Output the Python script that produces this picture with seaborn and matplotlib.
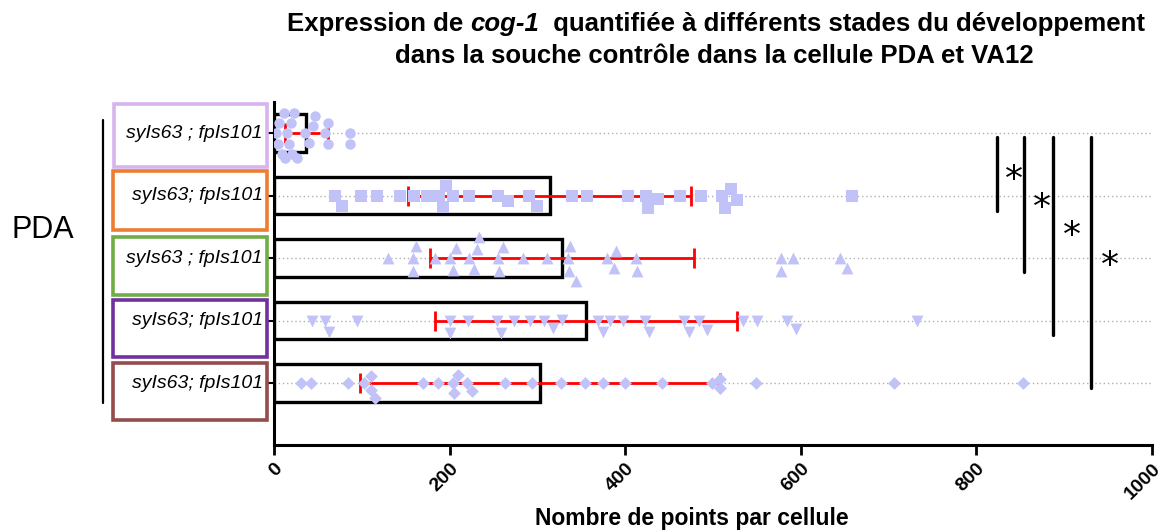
"""
Expression de cog-1 par cellule PDA : barres horizontales (moyenne +/- SD)
avec les points individuels superposés.
"""

import matplotlib.pyplot as plt
import matplotlib.transforms as mtransforms
import numpy as np
import pandas as pd
import seaborn as sns
from matplotlib.patches import Rectangle


# Données (nombre de points par cellule).
groupes = ["lignée 1", "lignée 2", "lignée 3", "lignée 4", "lignée 5"]
etiquettes = [
    "syIs63 ; fpIs101",
    "syIs63; fpIs101",
    "syIs63 ; fpIs101",
    "syIs63; fpIs101",
    "syIs63; fpIs101",
]
moyennes = [37, 314, 328, 355, 303]
ecarts_types = [24, 161, 150, 172, 205]

points_1 = [2, 4, 6, 9, 11, 13, 15, 17, 19, 21, 23, 26, 35, 40, 44, 47, 58, 61, 62, 87, 87]
points_2 = [69, 77, 99, 117, 143, 160, 174, 188, 193, 196, 204, 222, 255, 267, 291,
            299, 339, 357, 403, 424, 426, 437, 462, 486, 510, 514, 521, 527, 658]
points_3 = [130, 158, 158, 162, 183, 200, 204, 207, 222, 228, 231, 233, 255, 256, 261,
            284, 311, 335, 336, 337, 344, 379, 387, 390, 412, 413, 577, 577, 591, 645, 653]
points_4 = [43, 58, 63, 94, 200, 201, 221, 254, 258, 273, 292, 307, 318, 328, 369,
            375, 383, 397, 422, 427, 467, 473, 484, 493, 534, 550, 584, 594, 732]
points_5 = [31, 42, 84, 103, 110, 110, 115, 170, 187, 204, 205, 210, 220, 226, 263,
            294, 327, 354, 375, 400, 442, 499, 508, 508, 549, 706, 853]

# Comparaisons significatives (groupe de référence, groupe comparé).
comparaisons = [(0, 1), (0, 2), (0, 3), (0, 4)]

# Style / mise en page
MARQUEURS = ["o", "s", "^", "v", "D"]
TAILLES = [7.5, 8.5, 8.5, 8.5, 6.5]
COULEUR_POINTS = "#c0c2f8"
COULEURS_CADRES = ["#d7b4ef", "#ed7d31", "#70ad47", "#7030a0", "#944c4c"]
X_BARRES_SIGNIF = [824, 854, 887, 930]
Y_FIN_BARRES = [1.25, 2.22, 3.23, 4.07]
X_ETOILES = [843, 875, 909, 952]
Y_ETOILES = [0.6, 1.04, 1.49, 1.98]
W, H = 1163, 530


def fig_y(py):
    return 1 - py / H


def main() -> None:
    sns.set_theme(style="ticks")
    plt.rcParams["font.family"] = ["Liberation Sans", "DejaVu Sans"]
    for k in ["text.color", "axes.labelcolor", "xtick.color", "ytick.color", "axes.edgecolor"]:
        plt.rcParams[k] = "black"

    series = [points_1, points_2, points_3, points_4, points_5]
    df = pd.DataFrame(
        [(g, v) for g, vals in zip(groupes, series) for v in vals],
        columns=["groupe", "valeur"],
    )

    fig = plt.figure(figsize=(W / 100, H / 100), dpi=100)
    ax = fig.add_axes([274 / W, fig_y(445), (1152 - 274) / W, (445 - 102) / H])

    # Barres (moyennes) sans remplissage
    sns.barplot(
        x=moyennes, y=groupes, order=groupes, orient="h", ax=ax,
        color="black", fill=False, linewidth=2.4, width=0.6, errorbar=None,
    )

    # Barres d'erreur (SD)
    pos = np.arange(len(groupes))
    ax.errorbar(
        moyennes, pos, xerr=ecarts_types, fmt="none", ecolor="red",
        elinewidth=2, capsize=7, capthick=2, zorder=3,
    )

    # Points individuels, un marqueur par lignée
    for g, m, s in zip(groupes, MARQUEURS, TAILLES):
        sns.swarmplot(
            data=df[df["groupe"] == g], x="valeur", y="groupe", order=groupes,
            orient="h", ax=ax, marker=m, size=s, color=COULEUR_POINTS,
            linewidth=0, zorder=4,
        )

    ax.set_xlim(0, 1000)
    ax.set_ylim(4.99, -0.5)
    ax.set_xticks(range(0, 1001, 200))
    ax.set_xticklabels([str(t) for t in range(0, 1001, 200)], rotation=45,
                       ha="right", va="top", rotation_mode="anchor",
                       fontsize=14, fontweight="bold")
    ax.set_yticks(pos)
    ax.set_yticklabels([])
    ax.set_ylabel("")
    ax.set_xlabel("")
    ax.yaxis.grid(True, linestyle=(0, (1, 2)), color="#b0b0b0", linewidth=1)
    ax.tick_params(axis="x", length=7, width=2, pad=4)
    ax.tick_params(axis="y", length=5, width=1.5)
    for side in ["top", "right"]:
        ax.spines[side].set_visible(False)
    for side in ["left", "bottom"]:
        ax.spines[side].set_linewidth(2.2)

    fig.text(692 / W, fig_y(518), "Nombre de points par cellule", fontsize=16.5,
             fontweight="bold", ha="center", va="center")

    # Barres de significativité
    for (a, b), xs, y1, xe, ye in zip(comparaisons, X_BARRES_SIGNIF, Y_FIN_BARRES,
                                      X_ETOILES, Y_ETOILES):
        ax.plot([xs, xs], [a + 0.06, y1], color="black", lw=2.4,
                clip_on=False, zorder=5)
        ax.text(xe, ye + 0.15, "*", fontsize=26, ha="center", va="center",
                color="black", family="DejaVu Sans")

    # Étiquettes encadrées
    cadres = [(114, 104, 167), (113, 171, 230), (113, 237, 295),
              (113, 300, 357), (113, 363, 420)]
    for (x0, yt, yb), c in zip(cadres, COULEURS_CADRES):
        fig.patches.append(Rectangle(
            (x0 / W, fig_y(yb)), (267 - x0) / W, (yb - yt) / H,
            transform=fig.transFigure, fill=False, edgecolor=c, linewidth=2.6,
        ))
    trans = mtransforms.blended_transform_factory(fig.transFigure, ax.transData)
    for i, lab in enumerate(etiquettes):
        ax.text(263 / W, i, lab, transform=trans, ha="right", va="center",
                fontsize=14, style="italic", clip_on=False)

    # Accolade PDA
    fig.add_artist(plt.Line2D([103 / W, 103 / W], [fig_y(120), fig_y(403)],
                              transform=fig.transFigure, color="black", lw=1.6))
    fig.text(43 / W, fig_y(230), "PDA", fontsize=22, ha="center", va="center")

    # Titre (cog-1 en italique)
    kw = dict(fontsize=18.5, fontweight="bold", va="baseline")
    t1 = fig.text(287 / W, fig_y(31), "Expression de ", ha="left", **kw)
    t2 = fig.add_artist(plt.matplotlib.text.Annotation(
        "cog-1", xy=(1, 0), xycoords=t1, ha="left", va="bottom",
        style="italic", fontsize=18.5, fontweight="bold"))
    fig.add_artist(plt.matplotlib.text.Annotation(
        "  quantifiée à différents stades du développement", xy=(1, 0),
        xycoords=t2, ha="left", va="bottom", fontsize=18.5, fontweight="bold"))
    fig.text(714 / W, fig_y(63), "dans la souche contrôle dans la cellule PDA et VA12",
             ha="center", **kw)

    fig.savefig("out.png", dpi=100)
    plt.close(fig)


if __name__ == "__main__":
    main()
